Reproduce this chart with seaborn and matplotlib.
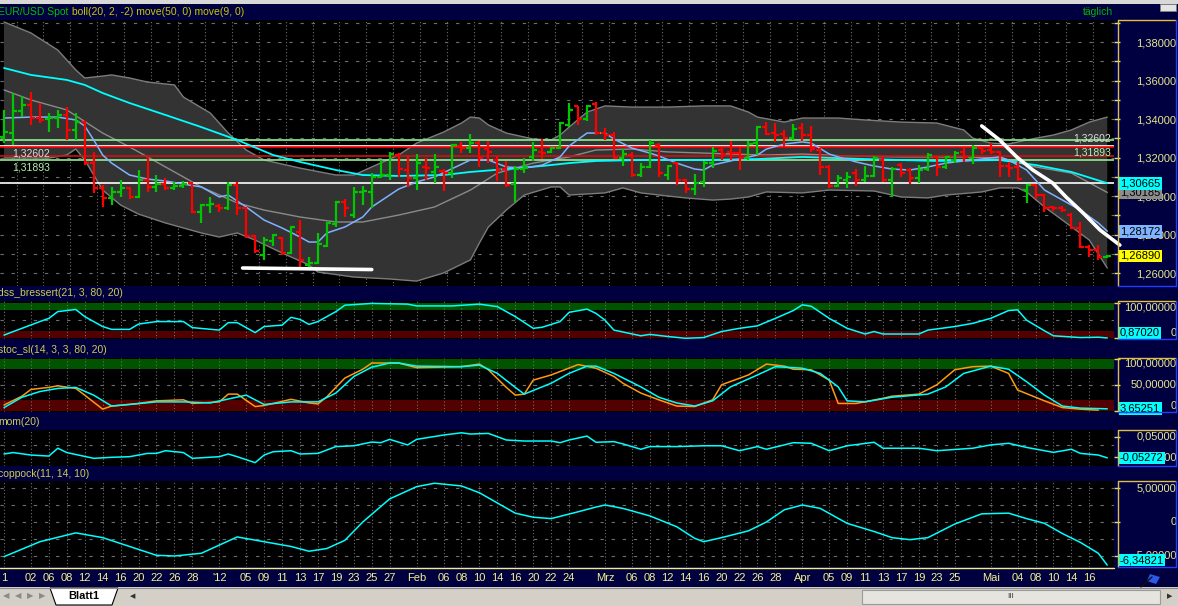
import numpy as np
import matplotlib
matplotlib.use("Agg")
import matplotlib.pyplot as plt
import matplotlib.transforms as mtransforms
from matplotlib.lines import Line2D
from matplotlib.patches import Rectangle, Polygon
from matplotlib.ticker import FuncFormatter, MultipleLocator
import seaborn as sns

sns.set_style("dark")
plt.rcParams["font.family"] = ["Liberation Sans", "DejaVu Sans"]

# EUR/USD daily bars 29.11.2011 - 18.05.2012
opens = [1.3306, 1.3327, 1.3442, 1.3473, 1.3405, 1.3400, 1.3405, 1.3421, 1.3343, 1.3384,
         1.3171, 1.3042, 1.2990, 1.3021, 1.3042, 1.2995, 1.3083, 1.3047, 1.3060, 1.3042,
         1.3050, 1.3068, 1.2917, 1.2953, 1.2948, 1.2938, 1.3057, 1.2938, 1.2790, 1.2694,
         1.2766, 1.2782, 1.2704, 1.2813, 1.2642, 1.2652, 1.2740, 1.2855, 1.2969, 1.2900,
         1.3021, 1.3021, 1.3099, 1.3109, 1.3213, 1.3135, 1.3093, 1.3151, 1.3125, 1.3130,
         1.3119, 1.3260, 1.3249, 1.3275, 1.3245, 1.3187, 1.3140, 1.3062, 1.3140, 1.3203,
         1.3229, 1.3229, 1.3249, 1.3369, 1.3467, 1.3400, 1.3478, 1.3327, 1.3317, 1.3197,
         1.3213, 1.3109, 1.3151, 1.3265, 1.3109, 1.3171, 1.3083, 1.3036, 1.3073, 1.3171,
         1.3239, 1.3229, 1.3223, 1.3197, 1.3275, 1.3358, 1.3327, 1.3322, 1.3301, 1.3353,
         1.3317, 1.3239, 1.3151, 1.3052, 1.3083, 1.3119, 1.3083, 1.3104, 1.3187, 1.3083,
         1.3161, 1.3135, 1.3093, 1.3140, 1.3203, 1.3151, 1.3187, 1.3229, 1.3197, 1.3249,
         1.3239, 1.3229, 1.3156, 1.3151, 1.3031, 1.3057, 1.3005, 1.2943, 1.2938, 1.2901,
         1.2834, 1.2735, 1.2719, 1.2683]
highs = [1.3447, 1.3535, 1.3519, 1.3540, 1.3483, 1.3431, 1.3447, 1.3462, 1.3431, 1.3390,
         1.3229, 1.3057, 1.3047, 1.3083, 1.3047, 1.3135, 1.3203, 1.3109, 1.3093, 1.3073,
         1.3078, 1.3073, 1.2960, 1.2995, 1.2958, 1.3073, 1.3073, 1.2945, 1.2797, 1.2787,
         1.2803, 1.2787, 1.2842, 1.2875, 1.2683, 1.2808, 1.2865, 1.2972, 1.2984, 1.3047,
         1.3052, 1.3119, 1.3187, 1.3229, 1.3223, 1.3213, 1.3218, 1.3197, 1.3218, 1.3140,
         1.3270, 1.3281, 1.3322, 1.3286, 1.3286, 1.3208, 1.3182, 1.3156, 1.3197, 1.3281,
         1.3296, 1.3255, 1.3382, 1.3483, 1.3470, 1.3473, 1.3488, 1.3353, 1.3332, 1.3244,
         1.3229, 1.3171, 1.3291, 1.3275, 1.3161, 1.3177, 1.3088, 1.3114, 1.3182, 1.3255,
         1.3249, 1.3286, 1.3255, 1.3286, 1.3364, 1.3384, 1.3379, 1.3343, 1.3374, 1.3379,
         1.3364, 1.3249, 1.3161, 1.3109, 1.3125, 1.3140, 1.3156, 1.3208, 1.3203, 1.3151,
         1.3171, 1.3145, 1.3161, 1.3223, 1.3208, 1.3208, 1.3234, 1.3255, 1.3265, 1.3255,
         1.3275, 1.3235, 1.3177, 1.3177, 1.3062, 1.3062, 1.3010, 1.2948, 1.2948, 1.2912,
         1.2865, 1.2745, 1.2745, 1.2694]
lows = [1.3275, 1.3265, 1.3410, 1.3369, 1.3379, 1.3332, 1.3353, 1.3291, 1.3291, 1.3161,
        1.3016, 1.2943, 1.2953, 1.2995, 1.2984, 1.2990, 1.3021, 1.3021, 1.3031, 1.3031,
        1.3042, 1.2912, 1.2860, 1.2912, 1.2917, 1.2927, 1.2901, 1.2780, 1.2704, 1.2668,
        1.2740, 1.2694, 1.2699, 1.2631, 1.2631, 1.2647, 1.2735, 1.2839, 1.2891, 1.2886,
        1.2953, 1.2938, 1.3093, 1.3083, 1.3099, 1.3047, 1.3031, 1.3083, 1.3068, 1.3026,
        1.3093, 1.3223, 1.3223, 1.3151, 1.3171, 1.3078, 1.3047, 1.2969, 1.3119, 1.3182,
        1.3192, 1.3223, 1.3244, 1.3358, 1.3369, 1.3390, 1.3317, 1.3291, 1.3192, 1.3156,
        1.3099, 1.3099, 1.3145, 1.3099, 1.3083, 1.3057, 1.3016, 1.3005, 1.3047, 1.3145,
        1.3187, 1.3187, 1.3135, 1.3187, 1.3213, 1.3317, 1.3281, 1.3255, 1.3291, 1.3286,
        1.3229, 1.3109, 1.3042, 1.3047, 1.3042, 1.3052, 1.3073, 1.3099, 1.3073, 1.2995,
        1.3099, 1.3062, 1.3068, 1.3130, 1.3104, 1.3140, 1.3171, 1.3177, 1.3166, 1.3218,
        1.3218, 1.3099, 1.3099, 1.3078, 1.2964, 1.2984, 1.2917, 1.2922, 1.2917, 1.2829,
        1.2730, 1.2683, 1.2668, 1.2680]
closes = [1.3332, 1.3442, 1.3473, 1.3405, 1.3395, 1.3405, 1.3421, 1.3343, 1.3384, 1.3171,
          1.3042, 1.2990, 1.3021, 1.3042, 1.2995, 1.3083, 1.3047, 1.3060, 1.3042, 1.3052,
          1.3062, 1.2917, 1.2955, 1.2960, 1.2938, 1.3057, 1.2938, 1.2790, 1.2714, 1.2771,
          1.2797, 1.2704, 1.2839, 1.2668, 1.2652, 1.2751, 1.2860, 1.2969, 1.2938, 1.3021,
          1.3026, 1.3099, 1.3110, 1.3218, 1.3140, 1.3093, 1.3171, 1.3145, 1.3151, 1.3119,
          1.3265, 1.3249, 1.3275, 1.3197, 1.3230, 1.3135, 1.3057, 1.3140, 1.3145, 1.3239,
          1.3225, 1.3249, 1.3379, 1.3447, 1.3400, 1.3467, 1.3327, 1.3317, 1.3197, 1.3218,
          1.3109, 1.3151, 1.3275, 1.3119, 1.3156, 1.3083, 1.3036, 1.3068, 1.3171, 1.3234,
          1.3218, 1.3223, 1.3197, 1.3270, 1.3358, 1.3322, 1.3317, 1.3301, 1.3348, 1.3317,
          1.3244, 1.3151, 1.3052, 1.3094, 1.3099, 1.3083, 1.3104, 1.3197, 1.3083, 1.3140,
          1.3119, 1.3093, 1.3135, 1.3213, 1.3151, 1.3203, 1.3223, 1.3203, 1.3249, 1.3234,
          1.3230, 1.3156, 1.3145, 1.3088, 1.3057, 1.3005, 1.2938, 1.2936, 1.2927, 1.2834,
          1.2735, 1.2719, 1.2683, 1.2689]

# bollinger(20,2) edges, middle, move(50), move(9): (bar index, price)
bb_up_idx = [0, 3, 6, 8, 9, 11, 12, 14, 16, 19, 20, 23, 25, 27, 29, 33, 37, 39, 41, 44, 46, 49, 51, 52,
             53, 54, 56, 59, 61, 62, 63, 65, 67, 70, 74, 78, 81, 83, 84, 87, 89, 93, 96, 100, 104,
             107, 108, 110, 112, 114, 117, 119, 121, 123]
bb_up_val = [1.3904, 1.3847, 1.3758, 1.3655, 1.3613, 1.3623, 1.3629, 1.3613, 1.3592, 1.3577, 1.3514,
             1.3431, 1.3327, 1.3239, 1.3187, 1.3145, 1.3109, 1.3109, 1.3151, 1.3213, 1.3275, 1.3332,
             1.3379, 1.3410, 1.3405, 1.3369, 1.3327, 1.3296, 1.3291, 1.3317, 1.3358, 1.3436, 1.3468,
             1.3462, 1.3462, 1.3468, 1.3468, 1.3436, 1.3410, 1.3384, 1.3405, 1.3405, 1.3395, 1.3384,
             1.3379, 1.3343, 1.3301, 1.3275, 1.3270, 1.3291, 1.3317, 1.3343, 1.3384, 1.3410]
bb_lo_idx = [0, 5, 7, 8, 9, 10, 11, 13, 15, 18, 22, 24, 26, 28, 31, 34, 35, 39, 43, 46, 49, 52, 53,
             54, 56, 58, 61, 62, 63, 67, 69, 71, 74, 76, 79, 81, 83, 85, 89, 92, 97, 100, 103, 105,
             109, 111, 113, 114, 116, 118, 121, 123]
bb_lo_val = [1.3197, 1.3197, 1.3213, 1.3244, 1.3187, 1.3109, 1.3031, 1.2953, 1.2906, 1.2860, 1.2808,
             1.2787, 1.2808, 1.2771, 1.2704, 1.2642, 1.2605, 1.2579, 1.2569, 1.2558, 1.2600, 1.2668,
             1.2756, 1.2839, 1.2927, 1.3005, 1.3047, 1.3047, 1.3005, 1.3016, 1.3042, 1.3016, 1.3000,
             1.2990, 1.2979, 1.2984, 1.2995, 1.3021, 1.3016, 1.3031, 1.3026, 1.2995, 1.2990, 1.3005,
             1.3021, 1.3042, 1.3042, 1.3021, 1.2943, 1.2875, 1.2771, 1.2626]
bb_mid_idx = [0, 3, 7, 11, 14, 18, 22, 26, 29, 33, 37, 40, 44, 48, 52, 55, 59, 63, 66, 70, 74, 78, 81,
              85, 89, 94, 100, 104, 107, 111, 115, 119, 123]
bb_mid_val = [1.3551, 1.3499, 1.3447, 1.3327, 1.3255, 1.3151, 1.3047, 1.2964, 1.2927, 1.2891, 1.2865,
              1.2865, 1.2901, 1.2943, 1.3031, 1.3119, 1.3171, 1.3203, 1.3239, 1.3244, 1.3229, 1.3223,
              1.3218, 1.3213, 1.3218, 1.3208, 1.3203, 1.3203, 1.3203, 1.3197, 1.3151, 1.3119, 1.30185]
ma50_idx = [0, 3, 7, 9, 11, 14, 18, 22, 26, 30, 33, 37, 40, 44, 49, 52, 56, 60, 63, 66, 71, 78, 84, 89,
            96, 104, 111, 115, 119, 123]
ma50_val = [1.3665, 1.3629, 1.3603, 1.3577, 1.3535, 1.3483, 1.3421, 1.3358, 1.3291, 1.3213, 1.3177,
            1.3135, 1.3109, 1.3104, 1.3109, 1.3125, 1.3140, 1.3156, 1.3171, 1.3182, 1.3187, 1.3187,
            1.3192, 1.3203, 1.3192, 1.3182, 1.3187, 1.3161, 1.3125, 1.30665]
ma9_idx = [0, 3, 6, 8, 9, 10, 11, 12, 14, 16, 18, 20, 22, 24, 25, 27, 29, 31, 33, 34, 35, 36, 38, 40,
           41, 43, 44, 46, 48, 52, 54, 56, 58, 60, 62, 63, 65, 67, 68, 70, 72, 73, 75, 77, 78, 79,
           81, 82, 84, 85, 87, 89, 90, 92, 93, 95, 97, 99, 101, 103, 105, 107, 109, 111, 112, 114,
           116, 118, 120, 122, 123]
ma9_val = [1.3405, 1.3410, 1.3410, 1.3395, 1.3364, 1.3291, 1.3213, 1.3171, 1.3109, 1.3088, 1.3078,
           1.3062, 1.3047, 1.2995, 1.3005, 1.2943, 1.2875, 1.2834, 1.2787, 1.2761, 1.2761, 1.2808,
           1.2839, 1.2891, 1.2943, 1.3005, 1.3036, 1.3073, 1.3099, 1.3187, 1.3187, 1.3151, 1.3145,
           1.3161, 1.3203, 1.3260, 1.3327, 1.3327, 1.3296, 1.3249, 1.3223, 1.3208, 1.3171, 1.3140,
           1.3135, 1.3161, 1.3182, 1.3192, 1.3213, 1.3244, 1.3270, 1.3281, 1.3275, 1.3218, 1.3203,
           1.3177, 1.3156, 1.3140, 1.3135, 1.3151, 1.3171, 1.3182, 1.3192, 1.3203, 1.3187, 1.3135,
           1.3031, 1.2979, 1.2927, 1.2860, 1.28172]

# horizontal levels and hand drawn trend lines
level_vals = [1.32893, 1.32602, 1.32550, 1.32100, 1.31893, 1.30670]
level_cols = ["#90ee90", "#ffffff", "#ff0000", "#d01010", "#90ee90", "#ffffff"]
support_idx = [26.6, 41.0]
support_val = [1.2626, 1.2618]
trend_idx = [109.0, 111.0, 112.9, 114.7, 116.9, 118.4, 120.3, 122.2, 124.4]
trend_val = [1.3364, 1.3291, 1.3203, 1.3135, 1.3068, 1.2995, 1.2912, 1.2823, 1.2745]

# dss_bressert(21, 3, 80, 20)
dss_idx = [0, 2, 4, 5, 6, 8, 9, 11, 12, 14, 15, 17, 20, 21, 24, 25, 26, 28, 29, 31, 32, 33, 34, 35,
           37, 38, 41, 45, 46, 50, 53, 55, 57, 59, 60, 62, 63, 65, 66, 67, 68, 71, 72, 74, 76, 78,
           80, 82, 84, 86, 88, 89, 90, 92, 94, 96, 97, 98, 102, 103, 106, 108, 110, 112, 113, 114,
           116, 117, 120, 122, 123]
dss_val = [9, 28, 47, 56, 75, 81, 61, 33, 25, 25, 40, 47, 47, 30, 23, 44, 44, 16, 33, 37, 59, 53, 39,
           47, 75, 93, 98, 96, 91, 91, 96, 89, 61, 28, 31, 47, 73, 82, 70, 51, 23, 7, 11, 5, 0, 2,
           19, 28, 35, 56, 78, 94, 90, 56, 28, 12, 19, 12, 12, 23, 33, 42, 56, 78, 80, 51, 21, 7, 2,
           3, 0.87020]

# stoc_sl(14, 3, 3, 80, 20): fast (orange) and slow (cyan)
stk_idx = [0, 2, 3, 5, 6, 8, 9, 11, 12, 15, 17, 20, 21, 24, 25, 26, 28, 29, 32, 34, 35, 36, 38, 40,
           41, 44, 46, 51, 53, 54, 56, 57, 58, 59, 61, 64, 66, 68, 69, 71, 73, 75, 77, 79, 80, 83,
           85, 87, 88, 90, 92, 93, 95, 98, 99, 102, 104, 106, 108, 110, 112, 113, 116, 118, 120, 122]
stk_val = [11, 28, 41, 45, 48, 43, 30, 3, 9, 14, 19, 21, 14, 17, 32, 32, 8, 10, 22, 15, 13, 27, 63,
           80, 92, 92, 83, 85, 90, 79, 45, 30, 32, 59, 69, 89, 82, 66, 53, 34, 21, 9, 8, 21, 50, 69,
           90, 86, 80, 79, 59, 14, 14, 24, 28, 32, 50, 79, 85, 86, 72, 40, 19, 6, 3, 1]
std_idx = [0, 2, 4, 6, 8, 10, 12, 14, 17, 20, 23, 27, 29, 32, 35, 37, 39, 41, 43, 44, 46, 51, 53, 55,
           57, 58, 61, 63, 65, 66, 68, 71, 73, 75, 77, 79, 81, 84, 86, 89, 91, 93, 94, 96, 99, 103,
           105, 107, 110, 112, 114, 116, 118, 120, 123]
std_val = [6, 26, 37, 43, 45, 30, 9, 12, 17, 17, 15, 30, 12, 17, 17, 34, 66, 84, 92, 92, 86, 85, 88,
           72, 45, 32, 53, 72, 86, 86, 72, 46, 26, 15, 9, 19, 46, 69, 85, 82, 72, 46, 19, 17, 26, 32,
           46, 72, 86, 80, 56, 30, 9, 5, 3.65251]

# mom(20)
mom_idx = [0, 1, 3, 5, 6, 7, 10, 12, 14, 16, 17, 18, 20, 21, 24, 25, 26, 28, 29, 30, 32, 33, 35, 37,
           39, 41, 42, 43, 45, 46, 49, 51, 52, 54, 56, 58, 61, 62, 63, 65, 66, 68, 69, 71, 72, 75,
           78, 80, 82, 84, 85, 88, 90, 92, 94, 97, 98, 102, 104, 108, 110, 112, 114, 117, 119, 120,
           122, 123]
mom_val = [-0.034, -0.027, -0.039, -0.044, -0.006, -0.027, -0.055, -0.050, -0.047, -0.031, -0.031,
           -0.018, -0.027, -0.055, -0.047, -0.034, -0.047, -0.076, -0.039, -0.023, -0.018, -0.034,
           -0.031, 0.002, 0.006, 0.024, 0.021, 0.037, 0.010, 0.037, 0.058, 0.069, 0.063, 0.066,
           0.034, 0.029, 0.029, 0.021, 0.034, 0.053, 0.023, 0.026, 0.015, -0.011, 0.002, 0.002,
           0.006, 0.006, -0.018, 0.002, -0.011, 0.021, 0.018, -0.018, 0.006, 0.023, -0.006, -0.006,
           -0.018, -0.006, 0.010, 0.018, -0.002, -0.026, -0.011, -0.031, -0.039, -0.05272]

# coppock(11, 14, 10)
cop_idx = [0, 4, 8, 11, 17, 19, 22, 24, 26, 29, 32, 34, 36, 38, 40, 43, 46, 48, 51, 53, 57, 59, 61,
           64, 66, 67, 69, 72, 75, 77, 78, 80, 83, 85, 87, 89, 91, 94, 97, 99, 101, 103, 106, 109,
           112, 114, 116, 118, 120, 122, 123]
cop_val = [-5.1, -2.9, -1.6, -2.3, -4.9, -5.0, -4.6, -3.4, -2.2, -2.9, -3.6, -4.3, -3.9, -2.7, 0.0,
           3.4, 5.2, 5.7, 5.3, 4.3, 1.3, 0.7, 0.5, 1.5, 2.2, 2.5, 2.0, 0.9, -0.7, -2.4, -2.9, -2.3,
           -1.3, 0.0, 1.8, 2.5, 2.0, -0.2, -1.4, -2.3, -2.6, -2.3, -0.3, 1.2, 1.3, 0.5, -0.2, -1.7,
           -3.0, -4.6, -6.34821]

# date axis labels (bar index, text)
tick_idx = [0, 3, 5, 7, 9, 11, 13, 15, 17, 19, 21, 24, 27, 29, 31, 33, 35, 37, 39, 41, 43, 46, 49,
            51, 53, 55, 57, 59, 61, 63, 67, 70, 72, 74, 76, 78, 80, 82, 84, 86, 89, 92, 94, 96, 98,
            100, 102, 104, 106, 110, 113, 115, 117, 119, 121]
tick_lab = ["1", "02", "06", "08", "12", "14", "16", "20", "22", "26", "28", "'12", "05", "09", "11",
            "13", "17", "19", "23", "25", "27", "Feb", "06", "08", "10", "14", "16", "20", "22", "24",
            "Mrz", "06", "08", "12", "14", "16", "20", "22", "26", "28", "Apr", "05", "09", "11",
            "13", "17", "19", "23", "25", "Mai", "04", "08", "10", "14", "16"]

W, H = 1178, 606
NAVY = "#000040"
YEL = "#e6e68c"
TXT = "#cccc50"
GRID = "#6e6e6e"
CYAN = "#00ffff"


def fmt5(v):
    return f"{v:.5f}".replace(".", ",")


def rect(x0, y0, x1, y1):
    return [x0 / W, 1 - y1 / H, (x1 - x0) / W, (y1 - y0) / H]


fig = plt.figure(figsize=(W / 100, H / 100), dpi=100, facecolor=NAVY)


def fline(xs, ys, **kw):
    fig.add_artist(Line2D([x / W for x in xs], [1 - y / H for y in ys],
                          transform=fig.transFigure, **kw))


def frect(x0, y0, x1, y1, **kw):
    fig.add_artist(Rectangle((x0 / W, 1 - y1 / H), (x1 - x0) / W, (y1 - y0) / H,
                             transform=fig.transFigure, **kw))


def panel(y0, y1):
    ax = fig.add_axes(rect(0, y0, 1114, y1))
    ax.set_facecolor("black")
    for s in ax.spines.values():
        s.set_visible(False)
    ax.grid(False)
    ax.yaxis.tick_right()
    ax.tick_params(axis="x", bottom=False, labelbottom=False)
    ax.tick_params(axis="y", which="both", right=True, left=False, direction="out",
                   length=4, width=1, color="#e0e060", labelcolor=YEL, labelsize=8, pad=41)
    # right hand value panel frame
    fline([1118, 1118], [y0, y1], color="#e0c040", lw=1)
    fline([1118, 1175], [y0, y0], color="#e0c040", lw=1)
    fline([1176, 1176], [y0, y1], color="#2040ff", lw=1)
    fline([1118, 1176], [y1, y1], color="#2040ff", lw=1)
    return ax


def right_ticks(ax, vals, texts, vas):
    ax.set_yticks(vals)
    ax.set_yticklabels(texts)
    for lab, va in zip(ax.get_yticklabels(), vas):
        lab.set_verticalalignment(va)
        lab.set_horizontalalignment("right")


def value_box(ax, v, fc, va="center"):
    tr = mtransforms.blended_transform_factory(ax.transAxes, ax.transData)
    ax.text(1120 / 1114, v, fmt5(v), transform=tr, ha="left", va=va, fontsize=8, color="black",
            bbox=dict(boxstyle="square,pad=0.12", fc=fc, ec="none"), clip_on=False, zorder=10)


def vgrid(ax, xs):
    for gx in xs:
        ax.axvline(gx, color=GRID, lw=0.8, ls=(0, (1, 2)), zorder=0.6)


def hgrid(ax, ys):
    for gy in ys:
        ax.axhline(gy, color=GRID, lw=0.8, ls=(0, (3, 7)), zorder=0.6)


x = np.arange(len(closes))
o, h, l, c = map(np.array, (opens, highs, lows, closes))
bar_cols = np.where(c >= o, "#00c800", "#ff0000")

# ---------------- price panel ----------------
ax_p = panel(20, 286)
ax_p.fill(np.r_[bb_up_idx, bb_lo_idx[::-1]], np.r_[bb_up_val, bb_lo_val[::-1]],
          color="#333333", lw=0, zorder=1)
hgrid(ax_p, np.arange(1.26, 1.391, 0.01))
vgrid(ax_p, np.arange(1.4, 124, 3))
for ix, iv in ((bb_up_idx, bb_up_val), (bb_lo_idx, bb_lo_val)):
    sns.lineplot(x=ix, y=iv, ax=ax_p, color="#7c7c7c", lw=1, zorder=2)
sns.lineplot(x=bb_mid_idx, y=bb_mid_val, ax=ax_p, color="#8a8a8a", lw=1, zorder=2)
for lv, lc in zip(level_vals, level_cols):
    ax_p.axhline(lv, color=lc, lw=1.2, zorder=2.2)
sns.lineplot(x=ma50_idx, y=ma50_val, ax=ax_p, color=CYAN, lw=1.3, zorder=2.5)
sns.lineplot(x=ma9_idx, y=ma9_val, ax=ax_p, color="#7fb2ff", lw=1.1, zorder=2.5)

ax_p.vlines(x, l, h, colors=bar_cols, lw=1.6, zorder=3)
ax_p.hlines(o, x - 0.45, x, colors=bar_cols, lw=1.6, zorder=3)
ax_p.hlines(c, x, x + 0.45, colors=bar_cols, lw=1.6, zorder=3)

ax_p.plot(support_idx, support_val, color="white", lw=2.6, solid_capstyle="round", zorder=4)
ax_p.plot(trend_idx, trend_val, color="white", lw=2.6, solid_capstyle="round", zorder=4,
          clip_on=False)

ax_p.set_xlim(-0.446, 123.75)
ax_p.set_ylim(1.25325, 1.39143)
ax_p.set_xlabel("")
ax_p.set_ylabel("")
ax_p.set_yticks(np.arange(1.26, 1.3801, 0.02))
ax_p.yaxis.set_major_formatter(FuncFormatter(lambda v, p: fmt5(v)))
ax_p.yaxis.set_minor_locator(MultipleLocator(0.01))
plt.setp(ax_p.get_yticklabels(), ha="right")

# labels of the horizontal levels
tr_p = mtransforms.blended_transform_factory(ax_p.transAxes, ax_p.transData)
for lv, col in ((1.32602, "#dcdcdc"), (1.31893, "#b4f0b4")):
    ax_p.annotate(fmt5(lv), xy=(1111 / 1114, lv), xycoords=tr_p, xytext=(0, 1.5),
                  textcoords="offset points", ha="right", va="bottom", fontsize=7.5,
                  color=col, zorder=6)
    ax_p.annotate(fmt5(lv), xy=(12 / 1114, lv), xycoords=tr_p, xytext=(0, -2),
                  textcoords="offset points", ha="left", va="top", fontsize=7.5,
                  color=col, zorder=6)

value_box(ax_p, bb_mid_val[-1], "#8c8c8c")
value_box(ax_p, ma50_val[-1], CYAN)
value_box(ax_p, ma9_val[-1], "#7fb2ff")
value_box(ax_p, closes[-1], "#ffff00")

# ---------------- dss ----------------
ax_d = panel(301, 339)
ax_d.axhspan(80, 100, color="#005400", lw=0, zorder=0.5)
ax_d.axhspan(0, 20, color="#520000", lw=0, zorder=0.5)
vgrid(ax_d, tick_idx)
hgrid(ax_d, [50])
sns.lineplot(x=dss_idx, y=dss_val, ax=ax_d, color=CYAN, lw=1.1, zorder=3)
ax_d.set_xlim(-0.446, 123.75)
ax_d.set_ylim(-2, 104.8)
right_ticks(ax_d, [100, 0], ["100,00000", "0"], ["top", "bottom"])
value_box(ax_d, dss_val[-1], CYAN, va="bottom")

# ---------------- stochastic ----------------
ax_s = panel(358, 412)
ax_s.axhspan(80, 100, color="#005400", lw=0, zorder=0.5)
ax_s.axhspan(0, 20, color="#520000", lw=0, zorder=0.5)
vgrid(ax_s, tick_idx)
hgrid(ax_s, [50])
sns.lineplot(x=stk_idx, y=stk_val, ax=ax_s, color="#ff9a10", lw=1.1, zorder=3)
sns.lineplot(x=std_idx, y=std_val, ax=ax_s, color=CYAN, lw=1.1, zorder=3)
ax_s.set_xlim(-0.446, 123.75)
ax_s.set_ylim(-2.5, 101.7)
right_ticks(ax_s, [100, 50, 0], ["100,00000", "50,00000", "0"], ["top", "center", "bottom"])
value_box(ax_s, std_val[-1], CYAN)

# ---------------- momentum ----------------
ax_m = panel(430, 466)
vgrid(ax_m, tick_idx)
hgrid(ax_m, [0.01])
sns.lineplot(x=mom_idx, y=mom_val, ax=ax_m, color=CYAN, lw=1.1, zorder=3)
ax_m.set_xlim(-0.446, 123.75)
ax_m.set_ylim(-0.0922, 0.0825)
right_ticks(ax_m, [0.05, -0.05], ["0,05000", "-0,05000"], ["center", "center"])
value_box(ax_m, mom_val[-1], CYAN)

# ---------------- coppock ----------------
ax_c = panel(481, 567)
vgrid(ax_c, tick_idx)
hgrid(ax_c, [5, 2.5, 0, -2.5, -5])
sns.lineplot(x=cop_idx, y=cop_val, ax=ax_c, color=CYAN, lw=1.1, zorder=3)
ax_c.set_xlim(-0.446, 123.75)
ax_c.set_ylim(-6.62, 6.03)
right_ticks(ax_c, [5, 0, -5], ["5,00000", "0", "-5,00000"], ["center", "center", "center"])
value_box(ax_c, cop_val[-1], CYAN, va="bottom")
ax_c.set_xticks(tick_idx)
ax_c.set_xticklabels(tick_lab)
ax_c.tick_params(axis="x", bottom=True, labelbottom=True, length=0, pad=4.5,
                 labelsize=8, labelcolor="#f2f28c")

for a in (ax_p, ax_d, ax_s, ax_m, ax_c):
    a.set_xlabel("")
    a.set_ylabel("")

fline([0, 1114], [568, 568], color="#f0f080", lw=1)

# ---------------- title and band captions ----------------
t1 = fig.text(-1.5 / W, 1 - 12 / H, "EUR/USD Spot", color="#00c000", fontsize=7.5, va="center")
ax_p.annotate(" boll(20, 2, -2) move(50, 0) move(9, 0)", xy=(1, 0.5), xycoords=t1,
              va="center", ha="left", color="#c8c800", fontsize=7.5, annotation_clip=False)
fig.text(1083 / W, 1 - 12 / H, "täglich", color="#00b400", fontsize=7.5, va="center")
for yy, cap in ((293, "dss_bressert(21, 3, 80, 20)"), (350, "stoc_sl(14, 3, 3, 80, 20)"),
                (422, "mom(20)"), (474, "coppock(11, 14, 10)")):
    fig.text(-1.5 / W, 1 - yy / H, cap, color=TXT, fontsize=7.5, va="center")

# window chrome at top and sheet tabs at the bottom
frect(0, 0, W, 4, fc="#d8d8d8", ec="none")
frect(1160, 4, 1176, 11, fc="#e4e4e4", ec="#808080", lw=0.6)
fig.add_artist(Polygon([(1150 / W, 1 - 574 / H), (1160 / W, 1 - 577 / H), (1156 / W, 1 - 584 / H),
                        (1147 / W, 1 - 581 / H)], closed=True, transform=fig.transFigure,
                       fc="#2a5ae8", ec="none"))
fline([1141, 1152], [587, 577], color="#101010", lw=1)

frect(0, 587, W, H, fc="#d4d0c8", ec="none")
fline([0, W], [587.5, 587.5], color="#8a8a8a", lw=0.8)
for xx, sym in ((6, "◀"), (18, "◀"), (30, "▶"), (42, "▶")):
    fig.text(xx / W, 1 - 597 / H, sym, color="#8a8a8a", fontsize=6, ha="center", va="center")
fig.add_artist(Polygon([(50 / W, 1 - 588 / H), (56 / W, 1 - 605 / H), (112 / W, 1 - 605 / H),
                        (118 / W, 1 - 588 / H)], closed=True, transform=fig.transFigure,
                       fc="white", ec="black", lw=0.8))
fig.text(84 / W, 1 - 596 / H, "Blatt1", color="black", fontsize=8, fontweight="bold",
         ha="center", va="center")
fig.text(133 / W, 1 - 597 / H, "◀", color="#303030", fontsize=5, ha="center", va="center")
frect(862, 590, 1160, 604, fc="#e6e4de", ec="#9a9a9a", lw=0.8)
fig.text(1011 / W, 1 - 597 / H, "III", color="#404040", fontsize=6, ha="center", va="center")
fig.text(1170 / W, 1 - 597 / H, "▶", color="#303030", fontsize=5, ha="center", va="center")

fig.savefig("out.png", dpi=100, facecolor=fig.get_facecolor())
